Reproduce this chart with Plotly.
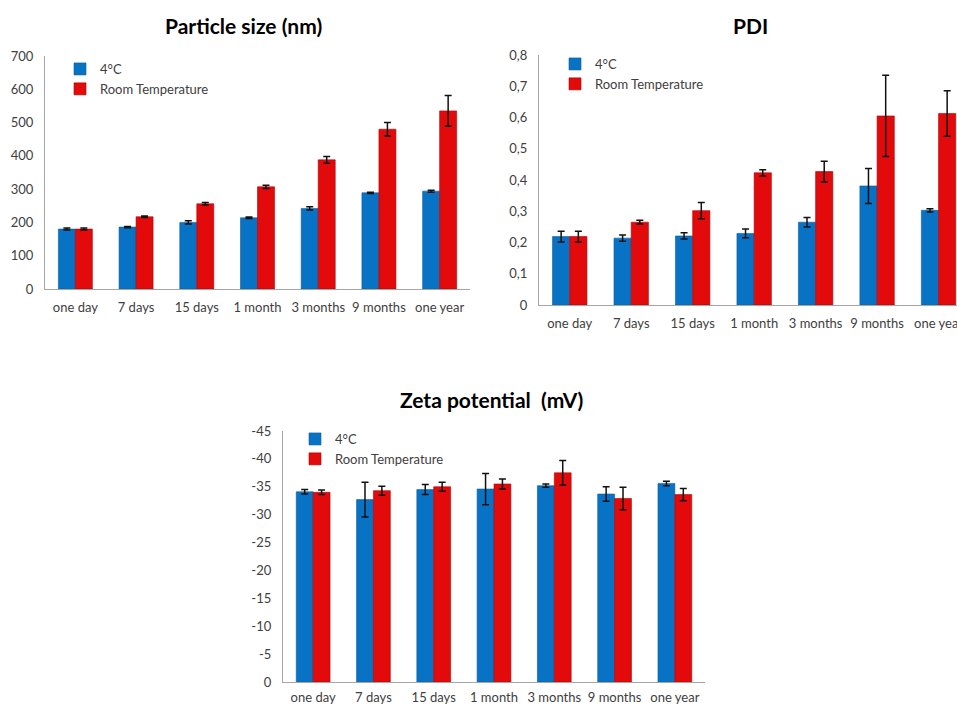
import plotly.graph_objects as go

categories = ["one day", "7 days", "15 days", "1 month", "3 months", "9 months", "one year"]
series_names = ["4°C", "Room Temperature"]

size_4c = [180, 186, 200, 214, 242, 289, 294]
size_4c_err = [3, 2, 5, 2, 5, 2, 3]
size_rt = [180, 217, 256, 307, 388, 480, 535]
size_rt_err = [3, 2, 4, 5, 10, 20, 46]

pdi_4c = [0.219, 0.214, 0.221, 0.229, 0.265, 0.381, 0.303]
pdi_4c_err = [0.017, 0.010, 0.010, 0.014, 0.015, 0.056, 0.005]
pdi_rt = [0.219, 0.265, 0.302, 0.423, 0.427, 0.605, 0.613]
pdi_rt_err = [0.017, 0.006, 0.026, 0.010, 0.033, 0.130, 0.073]

zeta_4c = [-34.1, -32.7, -34.5, -34.6, -35.2, -33.7, -35.6]
zeta_4c_err = [0.4, 3.1, 0.9, 2.8, 0.3, 1.3, 0.4]
zeta_rt = [-34.0, -34.3, -35.0, -35.5, -37.5, -32.9, -33.6]
zeta_rt_err = [0.4, 0.8, 0.8, 0.9, 2.2, 2.0, 1.1]

size_ticks = [0, 100, 200, 300, 400, 500, 600, 700]
pdi_ticks = [0, 0.1, 0.2, 0.3, 0.4, 0.5, 0.6, 0.7, 0.8]
pdi_ticklabels = ["0", "0,1", "0,2", "0,3", "0,4", "0,5", "0,6", "0,7", "0,8"]
zeta_ticks = [0, -5, -10, -15, -20, -25, -30, -35, -40, -45]
zeta_ticklabels = ["0", "-5", "-10", "-15", "-20", "-25", "-30", "-35", "-40", "-45"]

titles = ["Particle size (nm)", "PDI", "Zeta potential  (mV)"]

BLUE = "#0872C4"
RED = "#E20A0A"
FONT = "Lato"
TXT = "#404040"
AX = "#A6A6A6"

W, H = 957, 706

fig = go.Figure()

def add_pair(v1, e1, v2, e2, xa, ya, leg):
    for name, vals, errs, col, line in [
        (series_names[0], v1, e1, BLUE, "#0B5EA0"),
        (series_names[1], v2, e2, RED, "#B00000"),
    ]:
        fig.add_trace(go.Bar(
            x=categories, y=vals, name=name,
            marker=dict(color=col, line=dict(color=line, width=0.6)),
            error_y=dict(type="data", array=errs, visible=True,
                         color="#111111", thickness=1.5, width=3.5),
            xaxis=xa, yaxis=ya, legend=leg,
        ))

add_pair(size_4c, size_4c_err, size_rt, size_rt_err, "x", "y", "legend")
add_pair(pdi_4c, pdi_4c_err, pdi_rt, pdi_rt_err, "x2", "y2", "legend2")
add_pair(zeta_4c, zeta_4c_err, zeta_rt, zeta_rt_err, "x3", "y3", "legend3")

def px_x(p):
    return p / W

def px_y(p):
    return 1 - p / H

xcommon = dict(type="category", showgrid=False, showline=True, linecolor=AX,
               linewidth=1.3, ticks="", tickfont=dict(family=FONT, size=13, color=TXT),
               zeroline=False, automargin=False)
ycommon = dict(showgrid=False, showline=True, linecolor=AX, linewidth=1.3,
               ticks="", tickfont=dict(family=FONT, size=13, color=TXT),
               ticklabelstandoff=8, zeroline=False, automargin=False)

legcommon = dict(font=dict(family=FONT, size=13, color=TXT), bgcolor="rgba(0,0,0,0)",
                 tracegroupgap=0, itemwidth=30, xanchor="left", yanchor="top")

fig.update_layout(
    width=W, height=H,
    margin=dict(l=0, r=0, t=0, b=0, autoexpand=False),
    paper_bgcolor="white", plot_bgcolor="white",
    barmode="group", bargap=0.44, bargroupgap=0,
    showlegend=True,
    xaxis=dict(domain=[px_x(45), px_x(470)], range=[-0.5, 6.5], anchor="y",
               ticklabelstandoff=6, **xcommon),
    yaxis=dict(domain=[px_y(289), px_y(56)], range=[0, 700], tickvals=size_ticks,
               anchor="x", **ycommon),
    xaxis2=dict(domain=[px_x(539), 1], range=[-0.5, 6.3], anchor="y2",
                ticklabelstandoff=6, **xcommon),
    yaxis2=dict(domain=[px_y(305), px_y(55)], range=[0, 0.8], tickvals=pdi_ticks,
                ticktext=pdi_ticklabels, anchor="x2", **ycommon),
    xaxis3=dict(domain=[px_x(283), px_x(705)], range=[-0.5, 6.5], anchor="y3",
                ticklabelstandoff=3, **xcommon),
    yaxis3=dict(domain=[px_y(682), px_y(431)], range=[0, -45], tickvals=zeta_ticks,
                ticktext=zeta_ticklabels, anchor="x3", **ycommon),
    legend=dict(x=px_x(60), y=px_y(54), **legcommon),
    legend2=dict(x=px_x(555), y=px_y(49), **legcommon),
    legend3=dict(x=px_x(295), y=px_y(424), **legcommon),
    annotations=[
        dict(text="<b>" + titles[0] + "</b>", x=px_x(243), y=px_y(26), xref="paper", yref="paper",
             showarrow=False, font=dict(family=FONT, size=21, color="black"), xanchor="center", yanchor="middle"),
        dict(text="<b>" + titles[1] + "</b>", x=px_x(750), y=px_y(26), xref="paper", yref="paper",
             showarrow=False, font=dict(family=FONT, size=21, color="black"), xanchor="center", yanchor="middle"),
        dict(text="<b>" + titles[2] + "</b>", x=px_x(491), y=px_y(399), xref="paper", yref="paper",
             showarrow=False, font=dict(family=FONT, size=21, color="black"), xanchor="center", yanchor="middle"),
    ],
)

fig.write_html("out.html", config={"displayModeBar": False})
